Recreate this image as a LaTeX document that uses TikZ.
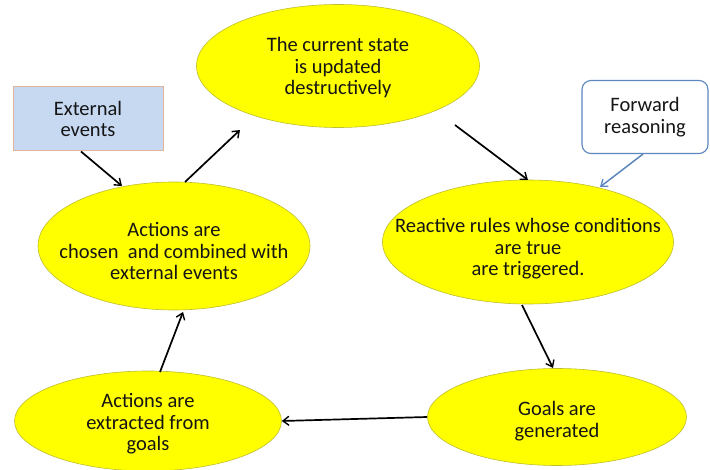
\documentclass[tikz,border=0pt]{standalone}
\usepackage{fontspec}
\setmainfont{Carlito}
\usetikzlibrary{shapes.geometric,arrows.meta}
\definecolor{ellfill}{HTML}{FFFF00}
\definecolor{elldraw}{HTML}{BDBD30}
\definecolor{extfill}{HTML}{C6D9F1}
\definecolor{extdraw}{HTML}{E3B598}
\definecolor{fwdraw}{HTML}{5B86BE}
\definecolor{txtcol}{HTML}{151515}
\begin{document}
\begin{tikzpicture}[x=1pt,y=-1pt,
  txt/.style={align=center,text=txtcol,font=\fontsize{20.5}{21.5}\selectfont},
  ell/.style={ellipse,fill=ellfill,draw=elldraw,line width=0.6pt,inner sep=0pt},
  arr/.style={line width=1.7pt,-{Straight Barb[length=6pt,width=9pt,line width=1.4pt]}},
  barr/.style={line width=1.5pt,draw=fwdraw,-{Straight Barb[length=6pt,width=9pt,line width=1.3pt]}}
]
\useasboundingbox (0,0) rectangle (710,470);
\node[ell,minimum width=283pt,minimum height=123pt] (top) at (338,66) {};
\node[txt] (toptext) at (338,68) {The current state\\is updated\\destructively};
\node[ell,minimum width=272pt,minimum height=128pt] (left) at (174,246) {};
\node[txt] (lefttext) at (174,251) {Actions are\\chosen\ \ and combined with\\external events};
\node[ell,minimum width=291pt,minimum height=124pt] (right) at (528,242) {};
\node[txt] (righttext) at (528,249) {Reactive rules whose conditions\\are true\\are triggered.};
\node[ell,minimum width=267pt,minimum height=100pt] (bl) at (148,421) {};
\node[txt] (bltext) at (148,424) {Actions are\\extracted from\\goals};
\node[ell,minimum width=259pt,minimum height=97pt] (br) at (557,417) {};
\node[txt] (brtext) at (557,421) {Goals are\\generated};
\node[txt,draw=extdraw,fill=extfill,line width=1pt,minimum width=150pt,minimum height=64pt,inner sep=0pt] (ext) at (88,119) {External\\events};
\node[txt,draw=fwdraw,fill=white,line width=1.1pt,rounded corners=9pt,minimum width=126pt,minimum height=73pt,inner sep=0pt] (fwd) at (645,117) {Forward\\reasoning};
\draw[arr] (ext.south -| 81,0) -- (122,186);
\draw[arr] (185,182) -- (240,130);
\draw[arr] (455,125) -- (528,180);
\draw[barr] (fwd.south -| 643,0) -- (600,187);
\draw[arr] (522,305) -- (553,368);
\draw[arr] (br.west) -- (bl.east);
\draw[arr] (160,372) -- (183,312);
\end{tikzpicture}
\end{document}
